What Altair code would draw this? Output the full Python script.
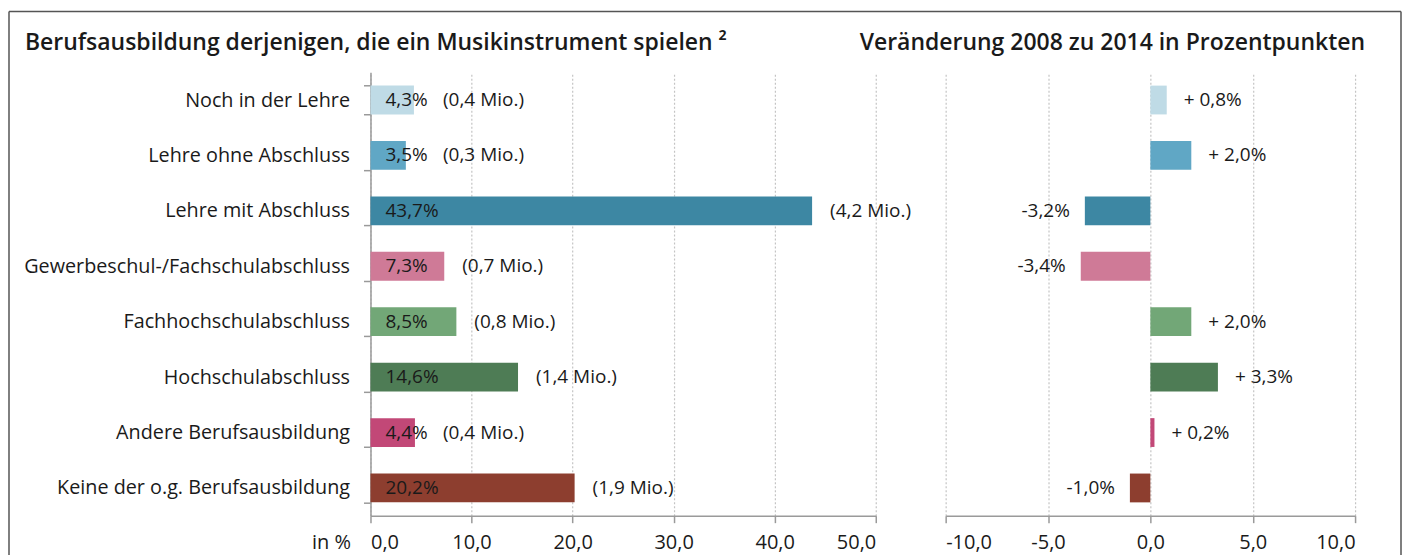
import altair as alt
import pandas as pd

categories = [
    "Noch in der Lehre",
    "Lehre ohne Abschluss",
    "Lehre mit Abschluss",
    "Gewerbeschul-/Fachschulabschluss",
    "Fachhochschulabschluss",
    "Hochschulabschluss",
    "Andere Berufsausbildung",
    "Keine der o.g. Berufsausbildung",
]
share = [4.3, 3.5, 43.7, 7.3, 8.5, 14.6, 4.4, 20.2]
mio = ["0,4", "0,3", "4,2", "0,7", "0,8", "1,4", "0,4", "1,9"]
change = [0.8, 2.0, -3.2, -3.4, 2.0, 3.3, 0.2, -1.0]
colors = ["#bfdbe6", "#60a7c5", "#3d87a3", "#cf7a97", "#72a777", "#4e7c55", "#c24877", "#8d3e2f"]

left_ticks = [0, 10, 20, 30, 40, 50]
right_ticks = [-10, -5, 0, 5, 10]
title_left = "Berufsausbildung derjenigen, die ein Musikinstrument spielen ²"
title_right = "Veränderung 2008 zu 2014 in Prozentpunkten"

FONT = "Open Sans"
TXT = "#1a1a1a"
AX = "#9a9a9a"
FS = 19
FS_CAT = 19.8
FS_AX = 20
FS_T = 23

df = pd.DataFrame({"cat": categories, "share": share, "mio": mio, "change": change})
one = pd.DataFrame({"k": [0]})

color = alt.Color("cat:N", scale=alt.Scale(domain=categories, range=colors), legend=None)
yscale = alt.Scale(domain=categories, paddingInner=0.48, paddingOuter=0.24)
fmt = "(datum.value < 0 ? '-' : '') + replace(format(abs(datum.value), '.1f'), '.', ',')"

W_L, W_R, H = 506, 410, 444

y_left = alt.Y("cat:N", sort=categories, scale=yscale,
               axis=alt.Axis(title=None, labelFontSize=FS_CAT, labelColor=TXT, labelFont=FONT,
                             domainColor=AX, domainWidth=1.5, tickColor=AX, tickWidth=1.5,
                             tickSize=7, tickBand="extent", labelPadding=14, grid=False,
                             labelLimit=400))
x_left = alt.X("share:Q", scale=alt.Scale(domain=[0, 50], nice=False),
               axis=alt.Axis(values=left_ticks, labelExpr=fmt, grid=True, gridDash=[2, 2],
                             gridColor="#c4c4c4", gridWidth=1.2, domainColor=AX, domainWidth=1.5,
                             tickColor=AX, tickWidth=1.5, tickSize=7, labelPadding=10,
                             labelFontSize=FS_AX, labelColor=TXT, labelFont=FONT,
                             title="in %", titleX=-20, titleY=33, titleAlign="right",
                             titleBaseline="alphabetic", titleFontWeight="normal",
                             titleFontSize=FS_AX, titleColor=TXT, titleFont=FONT))

base_l = alt.Chart(df).transform_calculate(
    pct="replace(format(datum.share, '.1f'), '.', ',') + '%'",
    mio_label="'(' + datum.mio + ' Mio.)'",
    mio_x="max(datum.share, 5.4)",
)
bars_l = base_l.mark_bar().encode(y=y_left, x=x_left, color=color)
pct_l = base_l.mark_text(align="left", baseline="middle", dx=15, fontSize=FS, font=FONT, color=TXT).encode(
    y=alt.Y("cat:N", sort=categories), x=alt.datum(0), text="pct:N")
mio_l = base_l.mark_text(align="left", baseline="middle", dx=18, fontSize=FS, font=FONT, color=TXT).encode(
    y=alt.Y("cat:N", sort=categories), x="mio_x:Q", text="mio_label:N")

# outer frame (top, left and right edges; the bottom edge lies outside the picture)
frame_top = alt.Chart(one).mark_rule(stroke="#555555", strokeWidth=1.5).encode(
    x=alt.value(-362), x2=alt.value(1032), y=alt.value(-61))
frame_left = alt.Chart(one).mark_rule(stroke="#555555", strokeWidth=1.5).encode(
    x=alt.value(-362), y=alt.value(-61), y2=alt.value(484))
frame_right = alt.Chart(one).mark_rule(stroke="#555555", strokeWidth=1.5).encode(
    x=alt.value(1032), y=alt.value(-61), y2=alt.value(484))

tl = alt.Chart(one).mark_text(align="left", baseline="alphabetic", fontSize=FS_T, fontWeight=600,
                              font=FONT, color=TXT).encode(
    x=alt.value(-346), y=alt.value(-22), text=alt.value(title_left))

left = alt.layer(frame_top, frame_left, frame_right, bars_l, pct_l, mio_l, tl).properties(width=W_L, height=H)

y_right = alt.Y("cat:N", sort=categories, scale=yscale, axis=None)
x_right = alt.X("change:Q", scale=alt.Scale(domain=[-10, 10], nice=False),
                axis=alt.Axis(values=right_ticks, labelExpr=fmt, grid=True, gridDash=[2, 2],
                              gridColor="#c4c4c4", gridWidth=1.2, domainColor=AX, domainWidth=1.5,
                              tickColor=AX, tickWidth=1.5, tickSize=7, labelPadding=10,
                              labelFontSize=FS_AX, labelColor=TXT, labelFont=FONT, title=None))
base_r = alt.Chart(df).transform_calculate(
    lab="(datum.change >= 0 ? '+ ' : '-') + replace(format(abs(datum.change), '.1f'), '.', ',') + '%'"
)
bars_r = base_r.mark_bar().encode(y=y_right, x=x_right, color=color)
pos_r = base_r.transform_filter("datum.change >= 0").mark_text(
    align="left", baseline="middle", dx=17, fontSize=FS, font=FONT, color=TXT).encode(
    y=alt.Y("cat:N", sort=categories), x="change:Q", text="lab:N")
neg_r = base_r.transform_filter("datum.change < 0").mark_text(
    align="right", baseline="middle", dx=-15, fontSize=FS, font=FONT, color=TXT).encode(
    y=alt.Y("cat:N", sort=categories), x="change:Q", text="lab:N")
tr = alt.Chart(one).mark_text(align="right", baseline="alphabetic", fontSize=FS_T, fontWeight=600,
                              font=FONT, color=TXT).encode(
    x=alt.value(W_R + 10), y=alt.value(-22), text=alt.value(title_right))

right = alt.layer(bars_r, pos_r, neg_r, tr).properties(width=W_R, height=H)

chart = alt.hconcat(left, right, spacing=70, bounds="flush").resolve_scale(
    x="independent", y="shared"
).properties(
    padding={"left": 0, "top": 2, "right": 0, "bottom": 6}
).configure_view(stroke=None)

chart.save("out.html", embed_options={"renderer": "svg", "actions": False})
